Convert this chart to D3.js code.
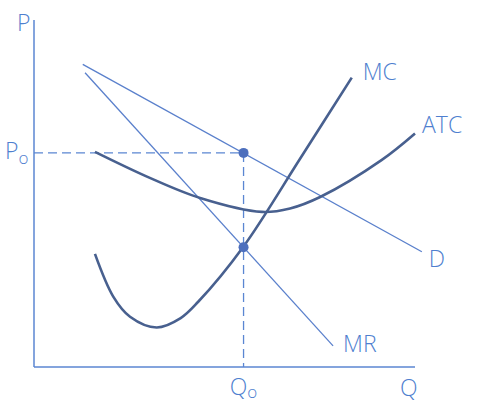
<!DOCTYPE html>
<html>
<head>
<meta charset="utf-8">
<script src="https://cdn.jsdelivr.net/npm/d3@7"></script>
<style>
  body { margin: 0; background: #fff; }
  text { font-family: "Open Sans", "Noto Sans", sans-serif; font-weight: 300; fill: #4f7fcf; }
</style>
</head>
<body>
<script>
const w = 477;
const h = 414;

// curves, in (Q, P) units
const demand = [[1.28, 8.72], [10.18, 3.32]];
const marginalRevenue = [[1.34, 8.48], [7.85, 0.61]];
const marginalCost = [[1.60, 3.26], [2.08, 2.03], [2.52, 1.45], [3.22, 1.14], [3.85, 1.41], [4.31, 1.88], [5.49, 3.46], [7.0, 6.03], [8.34, 8.34]];
const averageCost = [[1.60, 6.20], [3.04, 5.45], [4.36, 4.87], [5.98, 4.47], [6.72, 4.57], [7.51, 4.90], [9.13, 5.97], [10.0, 6.73]];
const q0 = 5.5;
const p0 = 6.17;
const mrAtQ0 = 3.45;
const curveLabels = ["D", "MR", "MC", "ATC"];

const x = d3.scaleLinear().domain([0, 10]).range([34, 415]);
const y = d3.scaleLinear().domain([0, 10]).range([367, 20]);

const svg = d3.select("body").append("svg")
  .attr("width", w)
  .attr("height", h);

// axes
svg.append("line")
  .attr("x1", x(0)).attr("y1", y(0)).attr("x2", x(0)).attr("y2", y(10))
  .attr("stroke", "#5b86d2").attr("stroke-width", 1.5);
svg.append("line")
  .attr("x1", x(0)).attr("y1", y(0)).attr("x2", x(10)).attr("y2", y(0))
  .attr("stroke", "#5b86d2").attr("stroke-width", 1.5);

// dashed guides
svg.append("line")
  .attr("x1", x(0)).attr("y1", y(p0)).attr("x2", x(q0)).attr("y2", y(p0))
  .attr("stroke", "#5b86d2").attr("stroke-width", 1.3).attr("stroke-dasharray", "9,5");
svg.append("line")
  .attr("x1", x(q0)).attr("y1", y(p0)).attr("x2", x(q0)).attr("y2", y(0))
  .attr("stroke", "#5b86d2").attr("stroke-width", 1.3).attr("stroke-dasharray", "9,5");

const line = d3.line().x(d => x(d[0])).y(d => y(d[1]));
const curve = d3.line().x(d => x(d[0])).y(d => y(d[1])).curve(d3.curveCatmullRom);

svg.append("path").attr("d", line(demand))
  .attr("fill", "none").attr("stroke", "#5a80cc").attr("stroke-width", 1.3);
svg.append("path").attr("d", line(marginalRevenue))
  .attr("fill", "none").attr("stroke", "#5a80cc").attr("stroke-width", 1.3);
svg.append("path").attr("d", curve(averageCost))
  .attr("fill", "none").attr("stroke", "#48608f").attr("stroke-width", 2.6);
svg.append("path").attr("d", curve(marginalCost))
  .attr("fill", "none").attr("stroke", "#48608f").attr("stroke-width", 2.6);

// points
svg.selectAll(".dot")
  .data([[q0, p0], [q0, mrAtQ0]])
  .enter().append("circle")
  .attr("class", "dot")
  .attr("cx", d => x(d[0]))
  .attr("cy", d => y(d[1]))
  .attr("r", 5)
  .attr("fill", "#4d6fbd");

// curve labels
const ends = [demand[1], marginalRevenue[1], marginalCost[marginalCost.length - 1], averageCost[averageCost.length - 1]];
const offs = [[7, 15], [10, 6], [11, 2], [7, 0]];
svg.selectAll(".clabel")
  .data(curveLabels)
  .enter().append("text")
  .attr("class", "clabel")
  .attr("x", (d, i) => x(ends[i][0]) + offs[i][0])
  .attr("y", (d, i) => y(ends[i][1]) + offs[i][1])
  .attr("font-size", 23)
  .text(d => d);

// axis labels
svg.append("text").attr("x", 17).attr("y", 31).attr("font-size", 23).text("P");
svg.append("text").attr("x", 400).attr("y", 396).attr("font-size", 23).text("Q");

const pt = svg.append("text").attr("x", 5).attr("y", 159).attr("font-size", 23);
pt.append("tspan").text("P");
pt.append("tspan").attr("font-size", 17).attr("dy", 5).text("o");

const qt = svg.append("text").attr("x", x(q0)).attr("y", 395).attr("font-size", 23).attr("text-anchor", "middle");
qt.append("tspan").text("Q");
qt.append("tspan").attr("font-size", 17).attr("dy", 3).text("o");
</script>
</body>
</html>
